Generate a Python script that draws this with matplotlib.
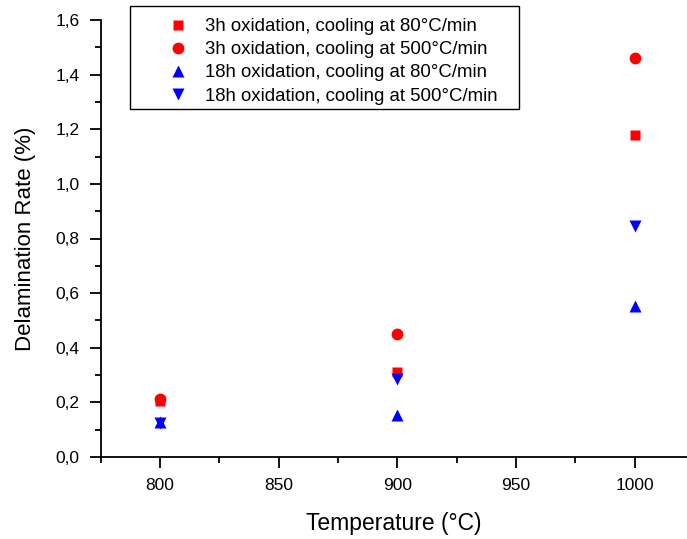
import matplotlib
matplotlib.use("Agg")
import matplotlib.pyplot as plt
from matplotlib.ticker import MultipleLocator, FuncFormatter
from matplotlib.patches import Rectangle

plt.rcParams['font.family'] = ['Liberation Sans', 'DejaVu Sans']

temps = [800, 900, 1000]
ox3h_80 = [0.205, 0.312, 1.180]
ox3h_500 = [0.213, 0.449, 1.461]
ox18h_80 = [0.129, 0.154, 0.553]
ox18h_500 = [0.126, 0.286, 0.845]
labels = ["3h oxidation, cooling at 80°C/min",
          "3h oxidation, cooling at 500°C/min",
          "18h oxidation, cooling at 80°C/min",
          "18h oxidation, cooling at 500°C/min"]

W, H = 687, 539
fig = plt.figure(figsize=(W / 100, H / 100), dpi=100)
ax = fig.add_axes([100.7/W, 1 - 457/H, 1 - 100.7/W, (457 - 20)/H])

ax.plot(temps, ox3h_80, 's', color='#ff0000', ms=7.2, mec='none', label=labels[0])
ax.plot(temps, ox3h_500, 'o', color='#ff0000', ms=8.5, mec='none', label=labels[1])
ax.plot(temps, ox18h_80, '^', color='#0000ff', ms=9, mec='none', label=labels[2])
ax.plot(temps, ox18h_500, 'v', color='#0000ff', ms=9, mec='none', label=labels[3])

ax.set_xlim(775, 1022)
ax.set_ylim(0, 1.6)
ax.xaxis.set_major_locator(MultipleLocator(50))
ax.xaxis.set_minor_locator(MultipleLocator(25))
ax.yaxis.set_major_locator(MultipleLocator(0.2))
ax.yaxis.set_minor_locator(MultipleLocator(0.1))
ax.yaxis.set_major_formatter(FuncFormatter(lambda v, p: f"{v:.1f}".replace('.', ',')))

for s in ['top', 'right']:
    ax.spines[s].set_visible(False)
for s in ['left', 'bottom']:
    ax.spines[s].set_linewidth(1.3)
ax.tick_params(which='major', direction='out', length=8, width=1.3, labelsize=12.5, pad=7)
ax.tick_params(which='minor', direction='out', length=4.5, width=1.3)

ax.set_xlabel("Temperature (°C)", fontsize=16.5, labelpad=14)
ax.set_ylabel("Delamination Rate (%)", fontsize=16, labelpad=14)

# legend frame box (figure pixels 130-519 x 6-109)
fig.patches.append(Rectangle((130/W, 1 - 109/H), (519 - 130)/W, (109 - 6)/H,
                             transform=fig.transFigure, fill=True, facecolor='white',
                             edgecolor='black', linewidth=1.0, zorder=5))
leg = fig.legend(loc='upper left', bbox_to_anchor=(151/W, 1 - 18/H), frameon=False,
                 fontsize=13.4, handletextpad=0.0, handlelength=2.9, borderpad=0,
                 borderaxespad=0, labelspacing=0.33)
leg.set_zorder(6)

fig.savefig("out.png", dpi=100)
